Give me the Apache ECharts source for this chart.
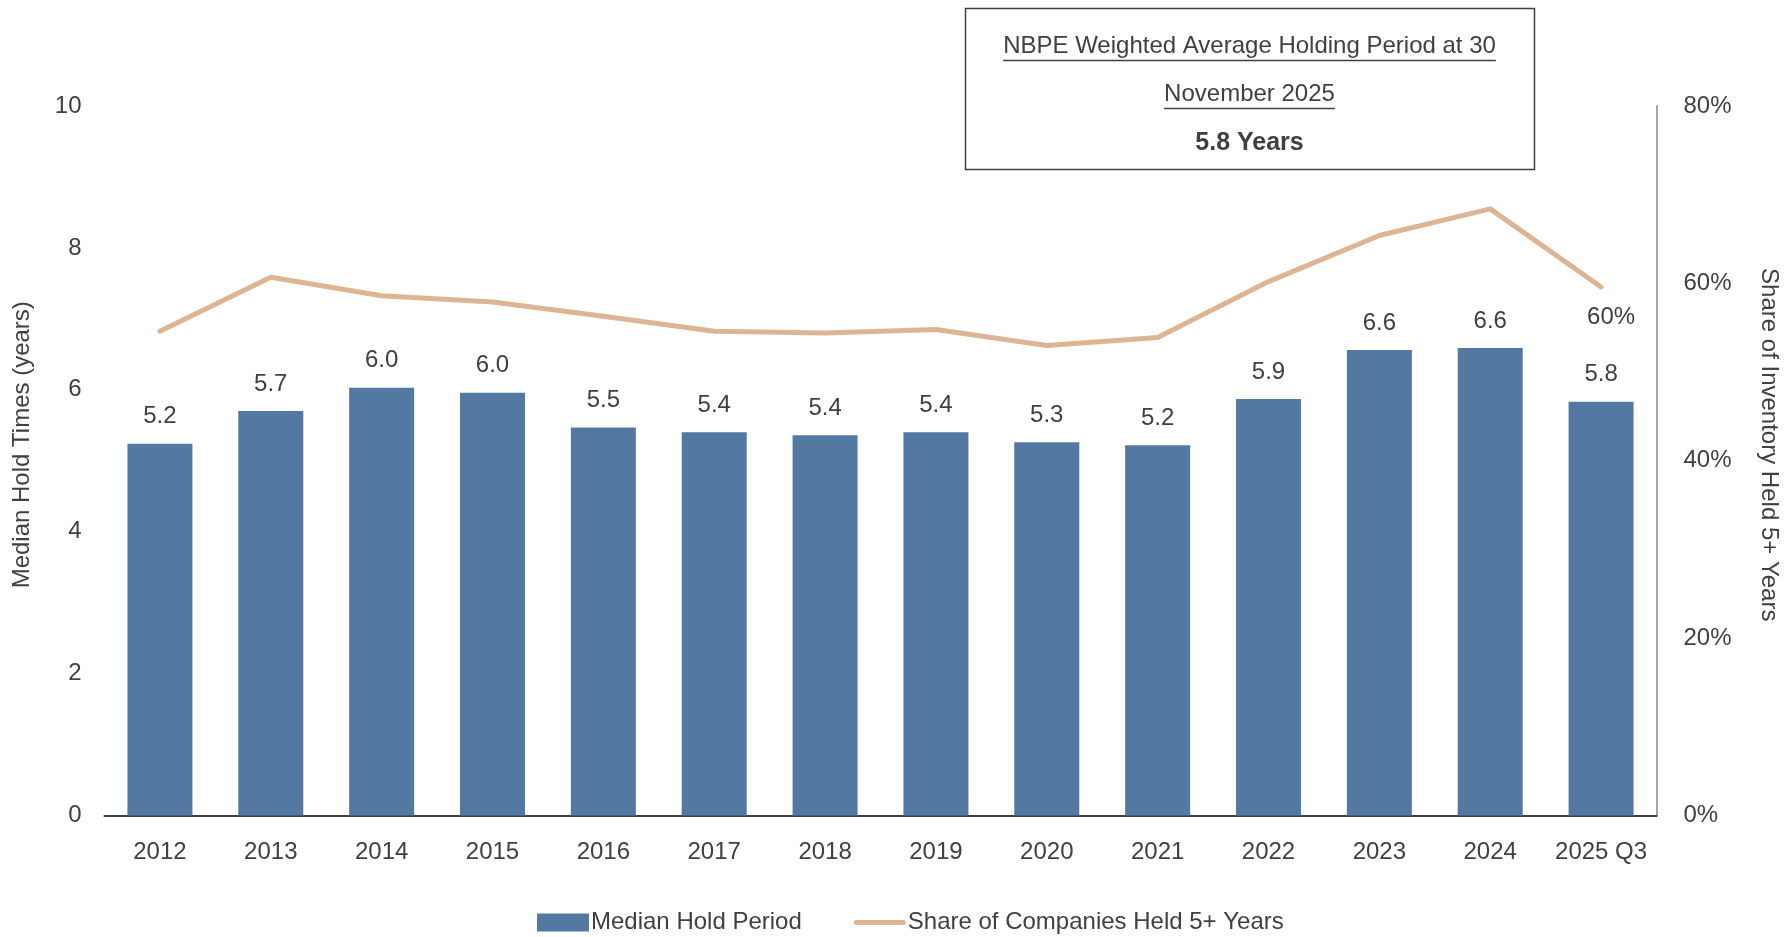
<!DOCTYPE html>
<html>
<head>
<meta charset="utf-8">
<script src="https://cdn.jsdelivr.net/npm/echarts@6/dist/echarts.min.js"></script>
<style>
  html, body { margin: 0; padding: 0; background: #fff; }
  #main { width: 1791px; height: 937px; }
</style>
</head>
<body>
<div id="main"></div>
<script>
var years = ['2012', '2013', '2014', '2015', '2016', '2017', '2018', '2019', '2020', '2021', '2022', '2023', '2024', '2025 Q3'];
// median hold period, years (left axis)
var holdYears = [5.24, 5.70, 6.03, 5.96, 5.47, 5.40, 5.36, 5.40, 5.26, 5.22, 5.87, 6.56, 6.59, 5.83];
// share of companies held 5+ years, % (right axis)
var shareHeld = [54.6, 60.7, 58.6, 57.9, 56.3, 54.6, 54.4, 54.8, 53.0, 53.9, 60.2, 65.4, 68.4, 59.6];
var leftTicks = { min: 0, max: 10, interval: 2 };
var rightTicks = { min: 0, max: 80, interval: 20 };

var FONT = "'Liberation Sans', Arial, sans-serif";
var FS = 24;
var TXT = '#404040';
var BAR = '#5379A2';
var LINE = '#DDB593';

// text width, used to size the underlines in the note box
var measureCtx = document.createElement('canvas').getContext('2d');
function textWidth(str, size) {
  measureCtx.font = size + 'px ' + FONT;
  return measureCtx.measureText(str).width;
}

var boxCx = 1249.5;
var boxLine1 = 'NBPE Weighted Average Holding Period at 30';
var boxLine2 = 'November 2025';
var boxFs = 24;
var w1 = textWidth(boxLine1, boxFs);
var w2 = textWidth(boxLine2, boxFs);

var chart = echarts.init(document.getElementById('main'));

var option = {
  backgroundColor: '#ffffff',
  animation: false,
  textStyle: { fontFamily: FONT, color: TXT },
  grid: { left: 104.5, right: 134.5, top: 106, bottom: 121.5, containLabel: false },
  legend: {
    left: 532,
    top: 905.5,
    itemWidth: 52,
    itemHeight: 18,
    itemGap: 52,
    textStyle: { fontFamily: FONT, fontSize: FS, color: TXT, padding: [0, 0, 0, -3] },
    data: [
      { name: 'Median Hold Period', icon: 'rect' },
      {
        name: 'Share of Companies Held 5+ Years',
        icon: 'path://M2.5,0 L49.5,0 A2.5,2.5 0 0 1 49.5,5 L2.5,5 A2.5,2.5 0 0 1 2.5,0 Z'
      }
    ]
  },
  xAxis: {
    type: 'category',
    data: years,
    axisLine: { lineStyle: { color: '#404040', width: 2 } },
    axisTick: { show: false },
    axisLabel: { fontFamily: FONT, fontSize: FS, color: TXT, margin: 25, interval: 0 }
  },
  yAxis: [
    {
      type: 'value',
      min: leftTicks.min, max: leftTicks.max, interval: leftTicks.interval,
      name: 'Median Hold Times (years)',
      nameLocation: 'middle',
      nameGap: 70,
      nameRotate: 90,
      nameTextStyle: { fontFamily: FONT, fontSize: FS, color: TXT, padding: [0, 0, 0, 32] },
      axisLine: { show: false },
      axisTick: { show: false },
      splitLine: { show: false },
      axisLabel: { fontFamily: FONT, fontSize: FS, color: TXT, margin: 23 }
    },
    {
      type: 'value',
      min: rightTicks.min, max: rightTicks.max, interval: rightTicks.interval,
      name: 'Share of Inventory Held 5+ Years',
      nameLocation: 'middle',
      nameGap: 100,
      nameRotate: -90,
      nameTextStyle: { fontFamily: FONT, fontSize: FS, color: TXT, padding: [0, 32, 0, 0] },
      axisLine: { show: true, lineStyle: { color: '#a6a6a6', width: 2 } },
      axisTick: { show: false },
      splitLine: { show: false },
      axisLabel: { fontFamily: FONT, fontSize: FS, color: TXT, margin: 27, formatter: '{value}%' }
    }
  ],
  series: [
    {
      name: 'Median Hold Period',
      type: 'bar',
      data: holdYears,
      barWidth: 65,
      itemStyle: { color: BAR },
      label: {
        show: true,
        position: 'top',
        distance: 15,
        fontFamily: FONT,
        fontSize: FS,
        color: TXT,
        formatter: function (p) { return p.value.toFixed(1); }
      }
    },
    {
      name: 'Share of Companies Held 5+ Years',
      type: 'line',
      yAxisIndex: 1,
      data: shareHeld.map(function (v, i) {
        if (i === shareHeld.length - 1) {
          return {
            value: v,
            label: {
              show: true,
              position: 'bottom',
              distance: 18,
              offset: [10, 0],
              fontFamily: FONT,
              fontSize: FS,
              color: TXT,
              formatter: function (p) { return Math.round(p.value) + '%'; }
            }
          };
        }
        return v;
      }),
      symbol: 'circle',
      symbolSize: 0.1,
      showSymbol: true,
      lineStyle: { color: LINE, width: 5, cap: 'round', join: 'round' },
      itemStyle: { color: LINE }
    }
  ],
  graphic: [
    {
      type: 'rect',
      shape: { x: 965.5, y: 8.5, width: 569, height: 161 },
      style: { fill: '#fff', stroke: '#404040', lineWidth: 1.5 }
    },
    {
      type: 'text',
      x: boxCx, y: 46,
      style: { text: boxLine1, fontFamily: FONT, fontSize: boxFs, fill: TXT, align: 'center', verticalAlign: 'middle' }
    },
    {
      type: 'line',
      shape: { x1: boxCx - w1 / 2, y1: 60.5, x2: boxCx + w1 / 2, y2: 60.5 },
      style: { stroke: TXT, lineWidth: 1.5 }
    },
    {
      type: 'text',
      x: boxCx, y: 94,
      style: { text: boxLine2, fontFamily: FONT, fontSize: boxFs, fill: TXT, align: 'center', verticalAlign: 'middle' }
    },
    {
      type: 'line',
      shape: { x1: boxCx - w2 / 2, y1: 108.5, x2: boxCx + w2 / 2, y2: 108.5 },
      style: { stroke: TXT, lineWidth: 1.5 }
    },
    {
      type: 'text',
      x: boxCx, y: 143,
      style: { text: '5.8 Years', fontFamily: FONT, fontSize: 25, fontWeight: 'bold', fill: TXT, align: 'center', verticalAlign: 'middle' }
    }
  ]
};

chart.setOption(option);
</script>
</body>
</html>
